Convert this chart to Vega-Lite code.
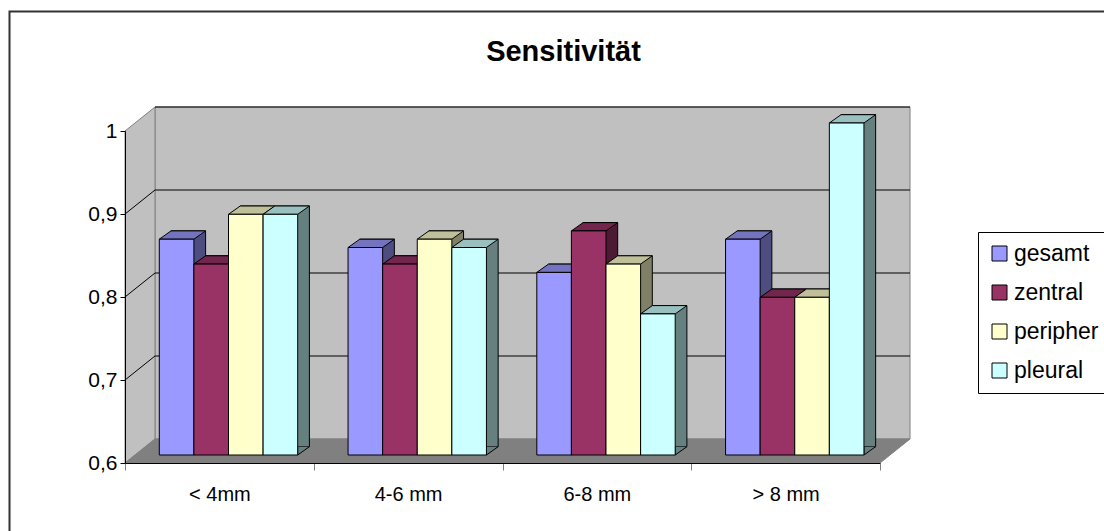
{
  "$schema": "https://vega.github.io/schema/vega-lite/v6.json",
  "width": 755,
  "height": 332,
  "autosize": {"type": "none"},
  "padding": {"left": 125, "top": 131, "right": 224, "bottom": 68},
  "background": "white",
  "config": {"font": "Liberation Sans", "view": {"stroke": null}},
  "title": {"text": "Sensitivität", "fontSize": 29, "fontWeight": "bold", "font": "Liberation Sans", "color": "black", "anchor": "middle", "frame": "group", "dx": 61, "offset": -82.5, "baseline": "alphabetic"},
  "data": {"values": [
    {"cat": "< 4mm", "series": "gesamt", "value": 0.86},
    {"cat": "< 4mm", "series": "zentral", "value": 0.83},
    {"cat": "< 4mm", "series": "peripher", "value": 0.89},
    {"cat": "< 4mm", "series": "pleural", "value": 0.89},
    {"cat": "4-6 mm", "series": "gesamt", "value": 0.85},
    {"cat": "4-6 mm", "series": "zentral", "value": 0.83},
    {"cat": "4-6 mm", "series": "peripher", "value": 0.86},
    {"cat": "4-6 mm", "series": "pleural", "value": 0.85},
    {"cat": "6-8 mm", "series": "gesamt", "value": 0.82},
    {"cat": "6-8 mm", "series": "zentral", "value": 0.87},
    {"cat": "6-8 mm", "series": "peripher", "value": 0.83},
    {"cat": "6-8 mm", "series": "pleural", "value": 0.77},
    {"cat": "> 8 mm", "series": "gesamt", "value": 0.86},
    {"cat": "> 8 mm", "series": "zentral", "value": 0.79},
    {"cat": "> 8 mm", "series": "peripher", "value": 0.79},
    {"cat": "> 8 mm", "series": "pleural", "value": 1.0}
  ]},
  "layer": [
    {
      "mark": {"type": "bar", "stroke": "black", "strokeWidth": 1, "opacity": 0},
      "encoding": {
        "x": {"field": "cat", "type": "nominal", "title": null, "scale": {"domain": ["< 4mm", "4-6 mm", "6-8 mm", "> 8 mm"], "paddingInner": 0, "paddingOuter": 0}, "axis": {"labelFontSize": 20, "labelFont": "Liberation Sans", "labelColor": "black", "labelAngle": 0, "labelPadding": 14, "tickSize": 7, "tickColor": "#808080", "domainColor": "black", "domainWidth": 1, "tickBand": "extent", "grid": false, "zindex": 1}},
        "y": {"field": "value", "type": "quantitative", "title": null, "scale": {"domain": [0.6, 1.0], "nice": false, "zero": false}, "axis": {"values": [0.6, 0.7, 0.8, 0.9, 1.0], "labelExpr": "datum.value == 1 ? '1' : replace(format(datum.value, '.1f'), '.', ',')", "labelFontSize": 21, "labelFont": "Liberation Sans", "labelColor": "black", "labelPadding": 3, "tickSize": 5, "tickColor": "black", "domainColor": "black", "grid": false, "labelFlush": false, "labelOverlap": false, "zindex": 1}},
        "y2": {"datum": 0.6}
      }
    },
    {
      "data": {"values": [{"k": 1}]},
      "mark": {"type": "point", "shape": "M-115.5,420L-115.5,-119.5L1200,-119.5", "size": 4, "filled": false, "stroke": "#333333", "strokeWidth": 2, "opacity": 1},
      "encoding": {"x": {"value": 0}, "y": {"datum": 1, "type": "quantitative", "title": null}}
    },
    {
      "data": {"values": [{"k": 1}]},
      "mark": {"type": "point", "shape": "M30,-24L785,-24L785,308L30,308Z", "size": 4, "filled": true, "fill": "#C0C0C0", "stroke": "#808080", "strokeWidth": 1, "opacity": 1},
      "encoding": {"x": {"value": 0}, "y": {"datum": 1, "type": "quantitative", "title": null}}
    },
    {
      "data": {"values": [{"k": 1}]},
      "mark": {"type": "point", "shape": "M0,0L30,-24L30,308L0,332Z", "size": 4, "filled": true, "fill": "#C0C0C0", "stroke": "#808080", "strokeWidth": 1, "opacity": 1},
      "encoding": {"x": {"value": 0}, "y": {"datum": 1, "type": "quantitative", "title": null}}
    },
    {
      "data": {"values": [{"k": 1}]},
      "mark": {"type": "point", "shape": "M0,332L755,332L785,308L30,308Z", "size": 4, "filled": true, "fill": "#808080", "stroke": "#808080", "strokeWidth": 1, "opacity": 1},
      "encoding": {"x": {"value": 0}, "y": {"datum": 1, "type": "quantitative", "title": null}}
    },
    {
      "data": {"values": [{"g": 0.7}, {"g": 0.8}, {"g": 0.9}]},
      "mark": {"type": "point", "shape": "M0,0L30,-24L785,-24", "size": 4, "filled": false, "stroke": "black", "strokeWidth": 1, "opacity": 1},
      "encoding": {"x": {"value": 0}, "y": {"field": "g", "type": "quantitative", "title": null}}
    },
    {
      "data": {"values": [{"g": 1.0}]},
      "mark": {"type": "point", "shape": "M30,-24L785,-24", "size": 4, "filled": false, "stroke": "black", "strokeWidth": 1, "opacity": 1},
      "encoding": {"x": {"value": 0}, "y": {"field": "g", "type": "quantitative", "title": null}}
    },
    {
      "mark": {"type": "bar", "stroke": "black", "strokeWidth": 1, "yOffset": -16.3, "y2Offset": -16.3},
      "encoding": {
        "x": {"field": "cat", "type": "nominal", "title": null},
        "xOffset": {"field": "series", "type": "nominal", "scale": {"type": "band", "domain": ["gesamt", "zentral", "peripher", "pleural"], "range": [46.0, 184.4], "paddingInner": 0, "paddingOuter": 0}},
        "y": {"field": "value", "type": "quantitative", "title": null},
        "y2": {"datum": 0.6},
        "color": {"field": "series", "type": "nominal", "legend": null, "scale": {"domain": ["gesamt", "zentral", "peripher", "pleural"], "range": ["#4D4D80", "#4D1A33", "#808066", "#668080"]}}
      }
    },
    {
      "mark": {"type": "point", "shape": "M17.3,-8.3L17.3,0L29,-8.3", "size": 4, "filled": true, "stroke": "black", "strokeWidth": 1, "opacity": 1, "yOffset": -8},
      "encoding": {
        "x": {"field": "cat", "type": "nominal", "title": null},
        "xOffset": {"field": "series", "type": "nominal", "scale": {"type": "band", "domain": ["gesamt", "zentral", "peripher", "pleural"], "range": [34.3, 172.7], "paddingInner": 0, "paddingOuter": 0}},
        "y": {"datum": 0.6, "type": "quantitative", "title": null},
        "color": {"field": "series", "type": "nominal", "legend": null, "scale": {"domain": ["gesamt", "zentral", "peripher", "pleural"], "range": ["#4D4D80", "#4D1A33", "#808066", "#668080"]}}
      }
    },
    {
      "mark": {"type": "point", "shape": "M-17.3,0L17.3,0L29,-8.3L-5.6,-8.3Z", "size": 4, "filled": true, "stroke": "black", "strokeWidth": 1, "opacity": 1, "yOffset": -8},
      "encoding": {
        "x": {"field": "cat", "type": "nominal", "title": null},
        "xOffset": {"field": "series", "type": "nominal", "scale": {"type": "band", "domain": ["gesamt", "zentral", "peripher", "pleural"], "range": [34.3, 172.7], "paddingInner": 0, "paddingOuter": 0}},
        "y": {"field": "value", "type": "quantitative", "title": null},
        "color": {"field": "series", "type": "nominal", "legend": null, "scale": {"domain": ["gesamt", "zentral", "peripher", "pleural"], "range": ["#7373BF", "#73264D", "#BFBF99", "#99BFBF"]}}
      }
    },
    {
      "mark": {"type": "bar", "stroke": "black", "strokeWidth": 1, "yOffset": -8, "y2Offset": -8},
      "encoding": {
        "x": {"field": "cat", "type": "nominal", "title": null},
        "xOffset": {"field": "series", "type": "nominal", "scale": {"type": "band", "domain": ["gesamt", "zentral", "peripher", "pleural"], "range": [34.3, 172.7], "paddingInner": 0, "paddingOuter": 0}},
        "y": {"field": "value", "type": "quantitative", "title": null},
        "y2": {"datum": 0.6},
        "color": {"field": "series", "type": "nominal", "scale": {"domain": ["gesamt", "zentral", "peripher", "pleural"], "range": ["#9999FF", "#993366", "#FFFFCC", "#CCFFFF"]},
          "legend": {"title": null, "orient": "none", "legendX": 853, "legendY": 101, "strokeColor": "black", "padding": 10, "symbolType": "square", "symbolSize": 225, "symbolStrokeColor": "black", "symbolStrokeWidth": 1, "labelFontSize": 23, "labelFont": "Liberation Sans", "labelColor": "black", "rowPadding": 15, "labelOffset": 3, "fillColor": "white"}}
      }
    }
  ],
  "resolve": {"scale": {"xOffset": "independent", "color": "independent"}}
}
